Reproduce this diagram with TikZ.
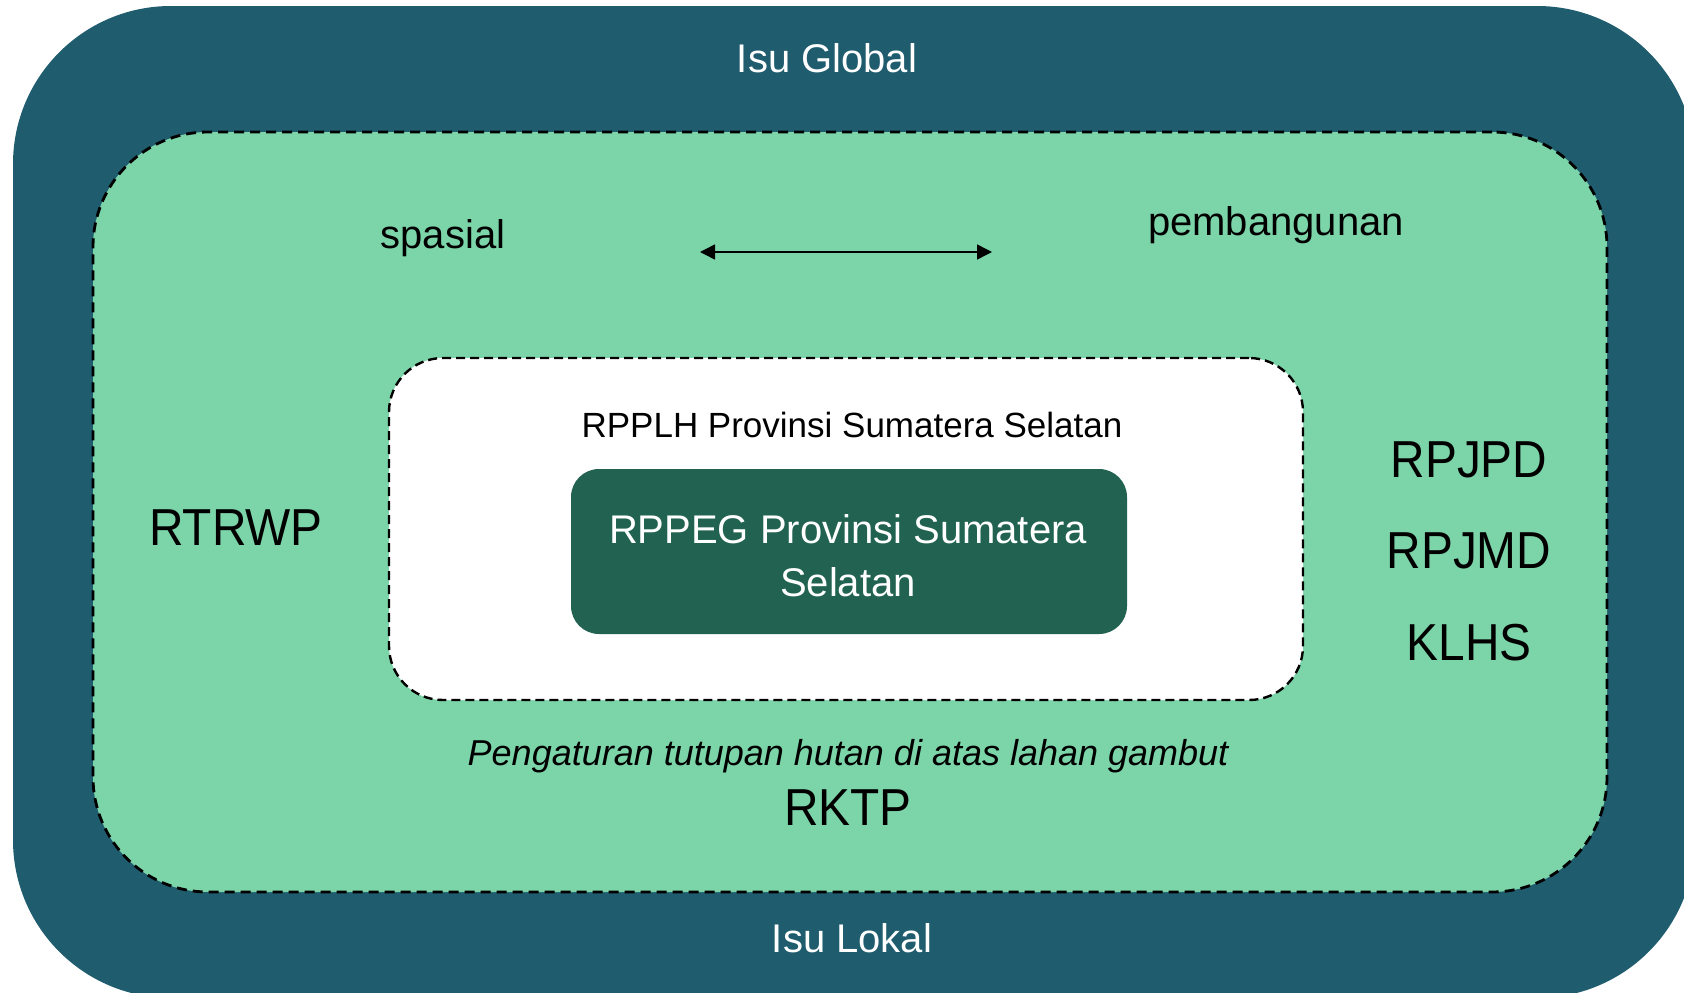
\documentclass[tikz,border=0pt]{standalone}
\usepackage{fontspec}
\setmainfont{Liberation Sans}
\newfontfamily\tallsans[FakeStretch=0.92]{Liberation Sans}
\usetikzlibrary{arrows.meta,positioning}
\definecolor{isublue}{HTML}{1F5C6E}
\definecolor{mintgreen}{HTML}{7CD4A9}
\definecolor{forestgreen}{HTML}{216350}

\begin{document}
\begin{tikzpicture}
		[x=1pt, y=-1pt, inner sep=0pt,
		isu/.style		= {rectangle, fill=isublue, rounded corners=158pt, minimum width=1682pt, minimum height=992pt},
		zone/.style		= {rectangle, fill=mintgreen, draw=black, line width=2.8pt, dash pattern=on 10pt off 6pt, rounded corners=115pt, minimum width=1514pt, minimum height=760pt},
		plan/.style		= {rectangle, fill=white, draw=black, line width=2.4pt, dash pattern=on 9pt off 5pt, rounded corners=54pt, minimum width=914pt, minimum height=342pt},
		core/.style		= {rectangle, fill=forestgreen, rounded corners=28pt, minimum width=556pt, minimum height=165pt},
		label/.style	= {anchor=base, font=\fontsize{40}{48}\selectfont},
		small/.style	= {anchor=base, font=\fontsize{35}{42}\selectfont},
		big/.style		= {anchor=base, font=\tallsans\fontsize{52}{60}\selectfont},
		paths/.style	= {{Triangle[length=15pt,width=15pt]}-{Triangle[length=15pt,width=15pt]}, line width=1.5pt}]
		
		\useasboundingbox (0,0) rectangle (1684,993);
		\clip (0,0) rectangle (1684,993);
		
		\node at (854, 502)		[isu]		(outer)	{};
		\node at (850, 512)		[zone]		(green)	{};
		\node at (846, 529)		[plan]		(rpplh)	{};
		\node at (849, 551.5)	[core]		(rppeg)	{};
		
		\node at (827, 72)		[label, text=white]	(global)	{Isu Global};
		\node at (852, 952)		[label, text=white]	(lokal)		{Isu Lokal};
		
		\node at (443, 248)		[label]		(spasial)	{spasial};
		\node at (1276, 235)	[label]		(bangun)	{pembangunan};
		
		\coordinate (al) at (700, 252);
		\coordinate (ar) at (992, 252);
		\draw [paths] (al) -- (ar);
		
		\node at (852, 437)		[small]		(plh)	{RPPLH Provinsi Sumatera Selatan};
		\node at (848, 543)		[label, text=white]	(peg1)	{RPPEG Provinsi Sumatera};
		\node at (848, 596)		[label, text=white]	(peg2)	{Selatan};
		
		\node at (236, 545)		[big]		(rtrwp)	{RTRWP};
		\node at (1469, 477)	[big]		(rpjpd)	{RPJPD};
		\node at (1469, 568)	[big]		(rpjmd)	{RPJMD};
		\node at (1469, 660)	[big]		(klhs)	{KLHS};
		
		\node at (848, 765)		[small, font=\fontsize{36}{42}\selectfont\itshape]	(gambut)	{Pengaturan tutupan hutan di atas lahan gambut};
		\node at (848, 825)		[big]		(rktp)	{RKTP};
		
\end{tikzpicture}
\end{document}
